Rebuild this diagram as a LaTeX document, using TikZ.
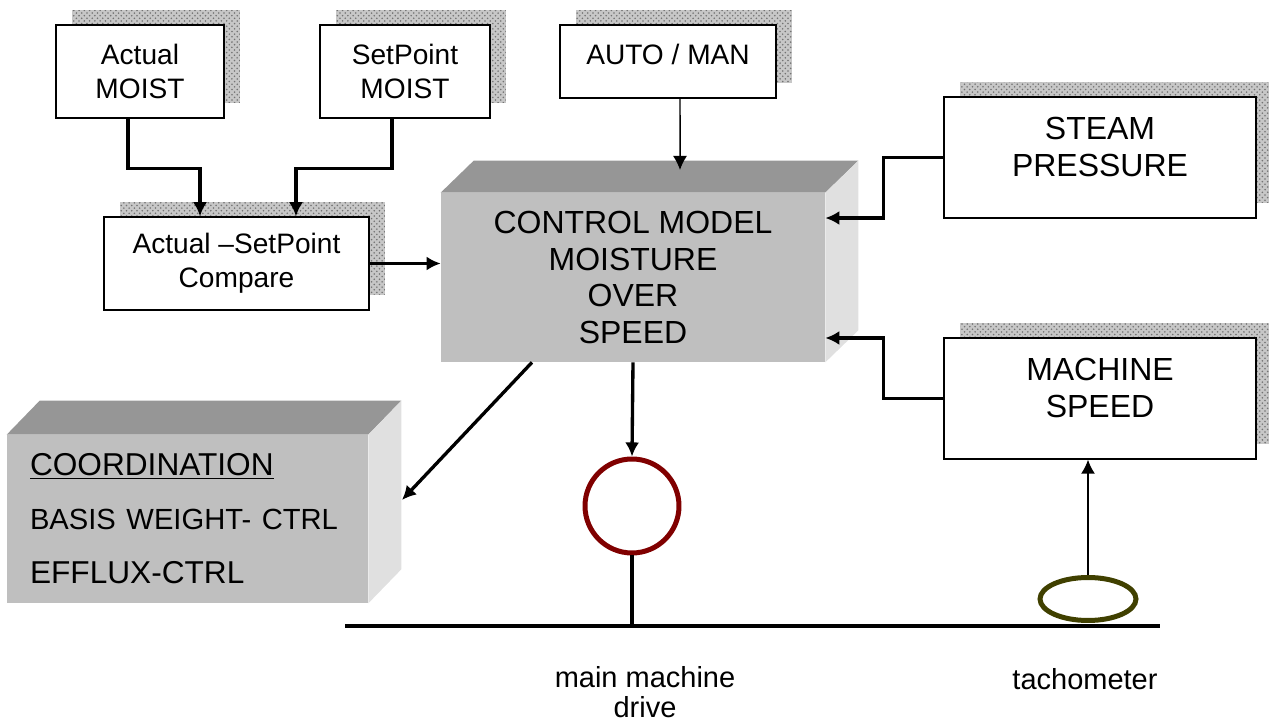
\documentclass[tikz,border=0pt]{standalone}
\usepackage{fontspec}
\setmainfont{Liberation Sans}
\usetikzlibrary{arrows.meta,shadows,shapes.geometric,patterns}
\definecolor{motorred}{HTML}{800000}
\definecolor{tachoolive}{HTML}{404000}
\begin{document}
\begin{tikzpicture}[
                    x=0.02cm, y=-0.02cm,
                    >={Latex[length=8pt,width=8pt]},
                    box/.style={draw, rectangle, fill=white, line width=0.8pt, align=center,
                                general shadow={fill=black!22, shadow xshift=0.32cm, shadow yshift=0.3cm},
                                general shadow={pattern=crosshatch dots, pattern color=black!55, shadow xshift=0.32cm, shadow yshift=0.3cm}},
                    small/.style={font=\fontsize{16}{19.4}\selectfont},
                    big/.style={font=\fontsize{18.2}{21}\selectfont},
                    cube/.style={rectangle, fill=black!25, inner sep=0pt},
                    thickline/.style={line width=1.9pt},
                    thinline/.style={line width=0.85pt}
                    ]
                    \useasboundingbox (0,0) rectangle (1269,722);

                    % input boxes
                    \node [box, small, minimum width=3.36cm, minimum height=1.86cm] (actual) at (140,71.5) {Actual\\MOIST};
                    \node [box, small, minimum width=3.4cm, minimum height=1.86cm] (setpt) at (405,71.5) {SetPoint\\MOIST};
                    \node [box, small, minimum width=4.32cm, minimum height=1.46cm, text depth=0.3cm] (automan) at (668,61.5) {AUTO / MAN};
                    \node [box, small, minimum width=5.3cm, minimum height=1.86cm] (compare) at (236.5,263.5) {Actual --SetPoint\\Compare};
                    \node [box, big, minimum width=6.24cm, minimum height=2.42cm, text depth=0.44cm] (steam) at (1100,157.5) {STEAM\\PRESSURE};
                    \node [box, big, minimum width=6.24cm, minimum height=2.42cm, text depth=0.44cm] (speed) at (1100,398.5) {MACHINE\\SPEED};

                    % control model block
                    \node [cube, big, align=center, minimum width=7.68cm, minimum height=3.38cm] (ctrl) at (633,277.5) {CONTROL MODEL\\MOISTURE\\OVER\\SPEED};
                    \fill [black!41] (ctrl.north west) -- ++(33,-32) -- ([shift={(33,-32)}]ctrl.north east) -- (ctrl.north east) -- cycle;
                    \fill [black!12] (ctrl.north east) -- ++(33,-32) -- ([shift={(33,-32)}]ctrl.south east) -- (ctrl.south east) -- cycle;

                    % coordination block
                    \node [cube, align=left, text width=6.3cm, minimum width=7.22cm, minimum height=3.36cm,
                           font=\fontsize{18}{30.7}\selectfont] (coord) at (187.5,519)
                          {\underline{COORDINATION}\\{\fontsize{16.6}{30.7}\selectfont BASIS WEIGHT- CTRL}\\EFFLUX-CTRL};
                    \fill [black!41] (coord.north west) -- ++(33,-34) -- ([shift={(33,-34)}]coord.north east) -- (coord.north east) -- cycle;
                    \fill [black!12] (coord.north east) -- ++(33,-34) -- ([shift={(33,-34)}]coord.south east) -- (coord.south east) -- cycle;

                    % drive and tachometer
                    \node [circle, draw=motorred, line width=0.1cm, minimum size=1.88cm, inner sep=0pt] (motor) at (632,506) {};
                    \node [ellipse, draw=tachoolive, line width=0.1cm, minimum width=1.92cm, minimum height=0.86cm, inner sep=0pt] (tacho) at (1088,599) {};
                    \coordinate (shaftL) at (345,626);
                    \coordinate (shaftR) at (1160,626);
                    \coordinate (ctrltop) at (680,170);
                    \coordinate (coordin) at (402,500);
                    \node [font=\fontsize{16.5}{17}\selectfont, align=center, inner sep=0pt] (drivelbl) at (645,692) {main machine\\drive};
                    \node [font=\fontsize{16.5}{17.6}\selectfont] (tacholbl) at (1085,679) {tachometer};

                    \draw [line width=0.08cm] (shaftL) -- (shaftR);
                    \draw [line width=0.08cm] (motor.south) -- (motor.south |- shaftL);

                    % connectors
                    \draw [thickline,->] ([xshift=-0.24cm]actual.south) -- ++(0,50) -| ([xshift=-0.73cm]compare.north);
                    \draw [thickline,->] ([xshift=-0.26cm]setpt.south) -- ++(0,50) -| ([xshift=1.19cm]compare.north);
                    \draw [thinline,->] ([xshift=0.24cm]automan.south) -- (ctrltop);
                    \draw [thickline,->] (compare.east) -- (compare.east -| ctrl.west);
                    \draw [thickline,->] (steam.west) -- ++(-60,0) |- ([yshift=1.19cm]ctrl.east);
                    \draw [thickline,->] (speed.west) -- ++(-60,0) |- ([yshift=-1.21cm]ctrl.east);
                    \draw [thickline,->] ([xshift=-2.02cm]ctrl.south) -- (coordin);
                    \draw [thickline,->] (ctrl.south) -- (motor.north);
                    \draw [thinline,->] (tacho.north) -- (tacho.north |- speed.south);
                \end{tikzpicture}
\end{document}
